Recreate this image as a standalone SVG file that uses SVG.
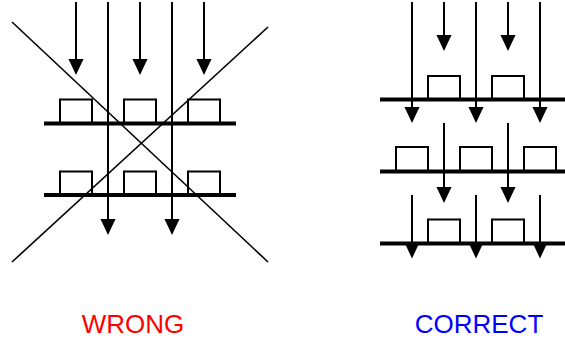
<svg xmlns="http://www.w3.org/2000/svg" width="565" height="341" viewBox="0 0 565 341">
<style>
.ln{stroke:#000;stroke-width:2;fill:none}
.bar{stroke:#000;stroke-width:4;fill:none}
.box{stroke:#000;stroke-width:2;fill:none}
.hd{fill:#000}
.diag{stroke:#000;stroke-width:1.6;fill:none}
.lbl{font-family:"Liberation Sans",Arial,sans-serif;font-size:26px;text-anchor:middle}
</style>
<rect width="565" height="341" fill="#fff"/>
<g id="wrong-panel">
  <g id="wrong-layer1">
    <path class="box" d="M60,123.5V99.5H92V123.5M124,123.5V99.5H156V123.5M188,123.5V99.5H220V123.5"/>
    <line class="bar" x1="44" y1="123.5" x2="236" y2="123.5"/>
  </g>
  <g id="wrong-layer2">
    <path class="box" d="M60,195V171.5H92V195M124,195V171.5H156V195M188,195V171.5H220V195"/>
    <line class="bar" x1="44" y1="195" x2="236" y2="195"/>
  </g>
</g>
<g id="correct-panel">
  <g id="correct-layer1">
    <path class="box" d="M428,99.5V76H460V99.5M492,99.5V76H524V99.5"/>
    <line class="bar" x1="380" y1="99.5" x2="565" y2="99.5"/>
  </g>
  <g id="correct-layer2">
    <path class="box" d="M396,171.5V147H428V171.5M460,171.5V147H492V171.5M524,171.5V147H556V171.5"/>
    <line class="bar" x1="380" y1="171.5" x2="565" y2="171.5"/>
  </g>
  <g id="correct-layer3">
    <path class="box" d="M428,243.5V219.5H460V243.5M492,243.5V219.5H524V243.5"/>
    <line class="bar" x1="380" y1="243.5" x2="565" y2="243.5"/>
  </g>
</g>
<g id="connectors">
  <path class="ln" d="M76,2V60M140,2V60M204,2V60M108,2V220M172,2V220"/>
  <path class="hd" d="M68.5,59H83.5L76,75ZM132.5,59H147.5L140,75ZM196.5,59H211.5L204,75ZM100.5,219H115.5L108,235ZM164.5,219H179.5L172,235Z"/>
  <path class="ln" d="M412,2V108M476,2V108M540,2V108M444,2V36M508,2V36M444,123V188M508,123V188M412,195V243M476,195V243M540,195V243"/>
  <path class="hd" d="M404.5,107H419.5L412,123ZM468.5,107H483.5L476,123ZM532.5,107H547.5L540,123ZM436.5,35H451.5L444,51ZM500.5,35H515.5L508,51ZM436.5,187H451.5L444,203ZM500.5,187H515.5L508,203ZM404.5,242.5H419.5L412,258.5ZM468.5,242.5H483.5L476,258.5ZM532.5,242.5H547.5L540,258.5Z"/>
</g>
<g id="cross">
  <line class="diag" x1="12" y1="22" x2="268" y2="262"/>
  <line class="diag" x1="268" y1="27" x2="12" y2="262"/>
</g>
<text class="lbl" x="133" y="333" fill="#ff0000">WRONG</text>
<text class="lbl" x="479" y="333" fill="#0000ff">CORRECT</text>
</svg>
